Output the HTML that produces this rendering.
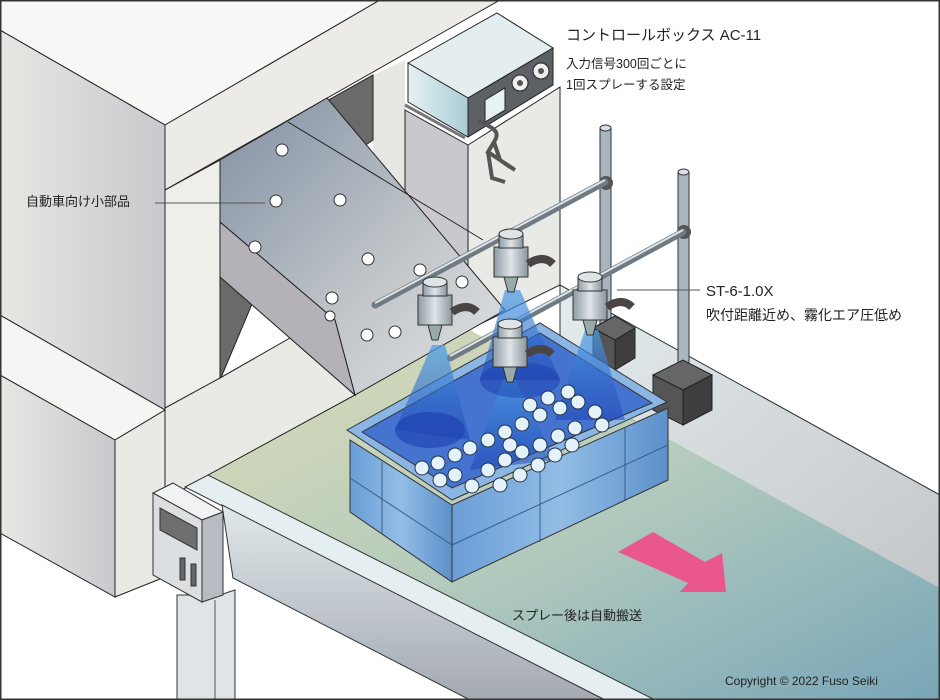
<!DOCTYPE html>
<html><head><meta charset="utf-8"><style>
html,body{margin:0;padding:0;background:#fff}
svg{display:block}
text{font-family:"Liberation Sans","Noto Sans CJK JP",sans-serif;fill:#222}
</style></head><body>
<svg width="940" height="700" viewBox="0 0 940 700" xmlns="http://www.w3.org/2000/svg">
<defs>
<linearGradient id="wall" x1="0" x2="1"><stop offset="0" stop-color="#e8e7e3"/><stop offset="1" stop-color="#c9c8cd"/></linearGradient>
<linearGradient id="belt" x1="0" y1="0" x2="1" y2="1"><stop offset="0" stop-color="#dddcb6"/><stop offset="0.5" stop-color="#b4cbbd"/><stop offset="1" stop-color="#78a6b8"/></linearGradient>
<linearGradient id="chute" x1="0" y1="0" x2="1" y2="1"><stop offset="0" stop-color="#8190a3"/><stop offset="0.6" stop-color="#c3c7ca"/><stop offset="1" stop-color="#dfe3e4"/></linearGradient>
<linearGradient id="tub" x1="0" x2="1"><stop offset="0" stop-color="#6a9ed6"/><stop offset="0.5" stop-color="#92bde6"/><stop offset="1" stop-color="#5d90ca"/></linearGradient>
<linearGradient id="cone" x1="0" y1="0" x2="0" y2="1"><stop offset="0" stop-color="#4aa0e8" stop-opacity="0.85"/><stop offset="1" stop-color="#1a3fb0" stop-opacity="0.6"/></linearGradient>
<linearGradient id="rail" x1="0" y1="0" x2="0" y2="1"><stop offset="0" stop-color="#e0e8ea"/><stop offset="1" stop-color="#a4a9b2"/></linearGradient>
<linearGradient id="brail" x1="0" y1="0" x2="1" y2="1"><stop offset="0" stop-color="#e4ecee"/><stop offset="1" stop-color="#c4c7ca"/></linearGradient>
<linearGradient id="noz" x1="0" x2="1"><stop offset="0" stop-color="#8f9ca5"/><stop offset="0.5" stop-color="#dfe5e8"/><stop offset="1" stop-color="#8a969e"/></linearGradient>
<linearGradient id="cb" x1="0" x2="1"><stop offset="0" stop-color="#e6f1f3"/><stop offset="1" stop-color="#a9cdd4"/></linearGradient>
</defs>
<rect width="940" height="700" fill="#fff"/>
<!-- back rail of conveyor -->
<polygon points="560,285 940,495 940,590 560,380" fill="url(#brail)" stroke="#333"/>
<!-- belt -->
<polygon points="208,475 470,330 560,380 940,588 940,700 655,700" fill="url(#belt)"/>
<!-- pedestal behind control box -->
<polygon points="373,75 405,60 405,340 373,340" fill="#e6e6e2"/>
<polygon points="405,110 468,145 468,330 405,300" fill="#cac8cd" stroke="#222"/>
<polygon points="468,145 560,87 560,285 468,330" fill="#e9e9e5" stroke="#222"/>
<!-- control box -->
<polygon points="408,63 497,13 553,48 468,98" fill="#e4eef0" stroke="#222"/>
<polygon points="408,63 468,98 468,137 408,102" fill="url(#cb)" stroke="#222"/>
<polygon points="468,98 553,48 553,85 468,137" fill="#5d6166" stroke="#222"/>
<polygon points="485,100 505,88 505,110 485,122" fill="#e8f2f5" stroke="#222"/>
<circle cx="520" cy="83" r="8" fill="#eee" stroke="#222"/><circle cx="520" cy="83" r="3" fill="#555"/>
<circle cx="541" cy="71" r="8" fill="#eee" stroke="#222"/><circle cx="541" cy="71" r="3" fill="#555"/>
<line x1="405" y1="105" x2="465" y2="138" stroke="#777" stroke-width="3"/>
<path d="M478,120 L492,128 Q500,133 494,142 L488,152 L515,170 M494,142 L500,160 L510,167 M488,152 L492,178 L505,182" stroke="#555" stroke-width="4" fill="none"/>
<!-- top & left block -->
<polygon points="0,0 380,0 165,125 0,30" fill="#f7f7f5" stroke="#222"/>
<polygon points="165,125 380,0 500,0 470,17 165,190" fill="#ecebe8" stroke="#222"/>
<polygon points="0,30 165,125 165,410 0,315" fill="url(#wall)" stroke="#222"/>
<polygon points="165,190 220,160 220,420 165,440" fill="#eeeeea" stroke="#222"/>
<polygon points="220,161 373,75 373,140 300,190 220,380" fill="#6a6a6a" stroke="#222"/>
<!-- floor below chute -->
<polygon points="165,408 220,378 290,338 355,395 208,475 165,500" fill="#e9e9e5" stroke="#222"/>
<!-- chute -->
<polygon points="220,160 327,98 505,310 355,395 335,320 220,222" fill="url(#chute)" stroke="#222"/>
<line x1="288" y1="122" x2="483" y2="240" stroke="#222"/>
<polygon points="220,222 335,320 355,395 220,277" fill="#b4b1b8" stroke="#222"/>
<g fill="#fff" stroke="#333">
<circle cx="282" cy="150" r="6"/><circle cx="276" cy="201" r="6"/><circle cx="340" cy="200" r="6"/><circle cx="255" cy="247" r="6"/><circle cx="368" cy="259" r="6"/><circle cx="332" cy="298" r="6"/><circle cx="367" cy="335" r="6"/><circle cx="395" cy="332" r="6"/><circle cx="420" cy="270" r="6"/><circle cx="462" cy="282" r="6"/><circle cx="330" cy="316" r="5"/>
</g>
<!-- lower block -->
<polygon points="0,315 165,410 115,440 0,375" fill="#f5f5f3" stroke="#222"/>
<polygon points="0,375 115,440 115,597 0,533" fill="url(#wall)" stroke="#222"/>
<polygon points="115,440 165,410 165,577 115,597" fill="#e9e9e5" stroke="#222"/>
<!-- front rail -->
<polygon points="185,487 208,475 655,700 605,700" fill="#e5eef1" stroke="#333"/>
<polygon points="222,505 605,700 470,700 233,578" fill="url(#rail)" stroke="#333"/>
<polygon points="177,595 220,595 235,590 235,700 177,700" fill="#dfe4e6" stroke="#333"/>
<line x1="215" y1="600" x2="215" y2="700" stroke="#555"/>
<!-- panel -->
<polygon points="153,493 173,483 223,512 202,520" fill="#f0f2f3" stroke="#333"/>
<polygon points="153,493 202,520 202,602 153,575" fill="#dcdfe2" stroke="#333"/>
<polygon points="202,520 223,512 223,595 202,602" fill="#b8bcc2" stroke="#333"/>
<polygon points="160,508 197,528 197,550 160,530" fill="#6e6e70" stroke="#333"/>
<rect x="180" y="558" width="5" height="22" fill="#666" stroke="#333"/><rect x="191" y="564" width="5" height="22" fill="#666" stroke="#333"/>
<!-- stands -->
<rect x="600" y="128" width="11" height="200" fill="#a9b6bf" stroke="#333"/>
<ellipse cx="605.5" cy="128" rx="5.5" ry="3" fill="#dde" stroke="#333"/>
<rect x="678" y="172" width="11" height="195" fill="#a9b6bf" stroke="#333"/>
<ellipse cx="683.5" cy="172" rx="5.5" ry="3" fill="#dde" stroke="#333"/>
<polygon points="593,328 615,316 635,328 615,340" fill="#666" stroke="#222"/>
<polygon points="615,340 635,328 635,358 615,370" fill="#3e3e3e" stroke="#222"/>
<polygon points="593,328 615,340 615,370 593,358" fill="#555" stroke="#222"/>
<polygon points="653,375 683,360 712,375 683,390" fill="#666" stroke="#222"/>
<polygon points="683,390 712,375 712,410 683,425" fill="#3e3e3e" stroke="#222"/>
<polygon points="653,375 683,390 683,425 653,410" fill="#555" stroke="#222"/>
<circle cx="606" cy="183" r="7" fill="#555"/><circle cx="684" cy="232" r="7" fill="#555"/>
<g stroke="#6f7a82" stroke-width="7" stroke-linecap="round"><line x1="375" y1="305" x2="605" y2="182"/><line x1="450" y1="358" x2="683" y2="232"/></g>
<g stroke="#dfe6ea" stroke-width="2"><line x1="375" y1="303" x2="605" y2="180"/><line x1="450" y1="356" x2="683" y2="230"/></g>
<!-- tub -->
<polygon points="347,430 540,323 667,402 452,500" fill="#8bb6e4" stroke="#333"/>
<polygon points="362,432 540,333 652,403 452,488" fill="#4573d0" stroke="#333"/>
<polygon points="350,440 452,505 452,582 350,512" fill="url(#tub)" stroke="#333"/>
<polygon points="452,505 668,408 668,480 452,582" fill="url(#tub)" stroke="#333"/>
<g stroke="#3a5d8c" fill="none"><line x1="350" y1="478" x2="452" y2="545"/><line x1="452" y1="545" x2="668" y2="445"/><line x1="382" y1="462" x2="382" y2="533"/><line x1="540" y1="465" x2="540" y2="542"/><line x1="625" y1="428" x2="625" y2="500"/></g>
<!-- cones -->
<polygon points="432,345 395,430 470,440 445,345" fill="url(#cone)" opacity="0.85"/>
<polygon points="505,290 480,380 560,380 520,290" fill="url(#cone)" opacity="0.85"/>
<polygon points="503,380 470,470 555,460 516,380" fill="url(#cone)" opacity="0.85"/>
<polygon points="585,330 555,420 625,420 598,330" fill="url(#cone)" opacity="0.85"/>
<ellipse cx="430" cy="430" rx="35" ry="18" fill="#1c3fae" opacity="0.6"/>
<ellipse cx="520" cy="380" rx="40" ry="18" fill="#1c3fae" opacity="0.5"/>
<g fill="#e4f2fc" stroke="#234">
<circle cx="422" cy="468" r="7"/><circle cx="438" cy="463" r="7"/><circle cx="455" cy="455" r="7"/><circle cx="470" cy="448" r="7"/><circle cx="488" cy="440" r="7"/><circle cx="505" cy="432" r="7"/><circle cx="522" cy="424" r="7"/><circle cx="540" cy="415" r="7"/><circle cx="560" cy="408" r="7"/><circle cx="578" cy="402" r="7"/><circle cx="595" cy="412" r="7"/><circle cx="455" cy="475" r="7"/><circle cx="472" cy="486" r="7"/><circle cx="488" cy="470" r="7"/><circle cx="505" cy="460" r="7"/><circle cx="522" cy="452" r="7"/><circle cx="540" cy="445" r="7"/><circle cx="558" cy="436" r="7"/><circle cx="575" cy="428" r="7"/><circle cx="500" cy="485" r="7"/><circle cx="520" cy="475" r="7"/><circle cx="538" cy="465" r="7"/><circle cx="555" cy="455" r="7"/><circle cx="572" cy="445" r="7"/><circle cx="530" cy="405" r="7"/><circle cx="548" cy="398" r="7"/><circle cx="568" cy="392" r="7"/><circle cx="440" cy="480" r="7"/><circle cx="602" cy="425" r="7"/><circle cx="510" cy="445" r="7"/>
</g>
<!-- nozzles -->
<g stroke="#333">
<g transform="translate(435,290)"><rect x="-17" y="5" width="34" height="30" fill="url(#noz)"/><rect x="-12" y="-8" width="24" height="14" fill="url(#noz)"/><ellipse cx="0" cy="-8" rx="12" ry="5" fill="#dfe4e6"/><path d="M-7,35 L7,35 L3,50 L-3,50Z" fill="#9aa"/><path d="M17,22 q15,-10 25,0" stroke="#4a4545" stroke-width="8" fill="none"/></g>
<g transform="translate(511,242)"><rect x="-17" y="5" width="34" height="30" fill="url(#noz)"/><rect x="-12" y="-8" width="24" height="14" fill="url(#noz)"/><ellipse cx="0" cy="-8" rx="12" ry="5" fill="#dfe4e6"/><path d="M-7,35 L7,35 L3,50 L-3,50Z" fill="#9aa"/><path d="M17,22 q15,-10 25,0" stroke="#4a4545" stroke-width="8" fill="none"/></g>
<g transform="translate(590,285)"><rect x="-17" y="5" width="34" height="30" fill="url(#noz)"/><rect x="-12" y="-8" width="24" height="14" fill="url(#noz)"/><ellipse cx="0" cy="-8" rx="12" ry="5" fill="#dfe4e6"/><path d="M-7,35 L7,35 L3,50 L-3,50Z" fill="#9aa"/><path d="M17,22 q15,-10 25,0" stroke="#4a4545" stroke-width="8" fill="none"/></g>
<g transform="translate(510,332)"><rect x="-17" y="5" width="34" height="30" fill="url(#noz)"/><rect x="-12" y="-8" width="24" height="14" fill="url(#noz)"/><ellipse cx="0" cy="-8" rx="12" ry="5" fill="#dfe4e6"/><path d="M-7,35 L7,35 L3,50 L-3,50Z" fill="#9aa"/><path d="M17,22 q15,-10 25,0" stroke="#4a4545" stroke-width="8" fill="none"/></g>
</g>
<!-- arrow -->
<polygon points="618,552 653,532 705,562 722,553 726,592 680,592 688,583" fill="#e9578d"/>
<!-- labels -->
<line x1="155" y1="203" x2="265" y2="203" stroke="#555"/>
<line x1="617" y1="290" x2="700" y2="290" stroke="#555"/>
<text x="26" y="206" font-size="13">自動車向け小部品</text>
<text x="566" y="40" font-size="15">コントロールボックス AC-11</text>
<text x="566" y="68" font-size="12.5">入力信号300回ごとに</text>
<text x="566" y="89" font-size="12.5">1回スプレーする設定</text>
<text x="706" y="296" font-size="15">ST-6-1.0X</text>
<text x="706" y="320" font-size="14">吹付距離近め、霧化エア圧低め</text>
<text x="512" y="620" font-size="13">スプレー後は自動搬送</text>
<text x="725" y="685" font-size="12">Copyright © 2022 Fuso Seiki</text>
<rect x="0.5" y="0.5" width="939" height="699" fill="none" stroke="#333" stroke-width="2"/>
</svg>
</body></html>
